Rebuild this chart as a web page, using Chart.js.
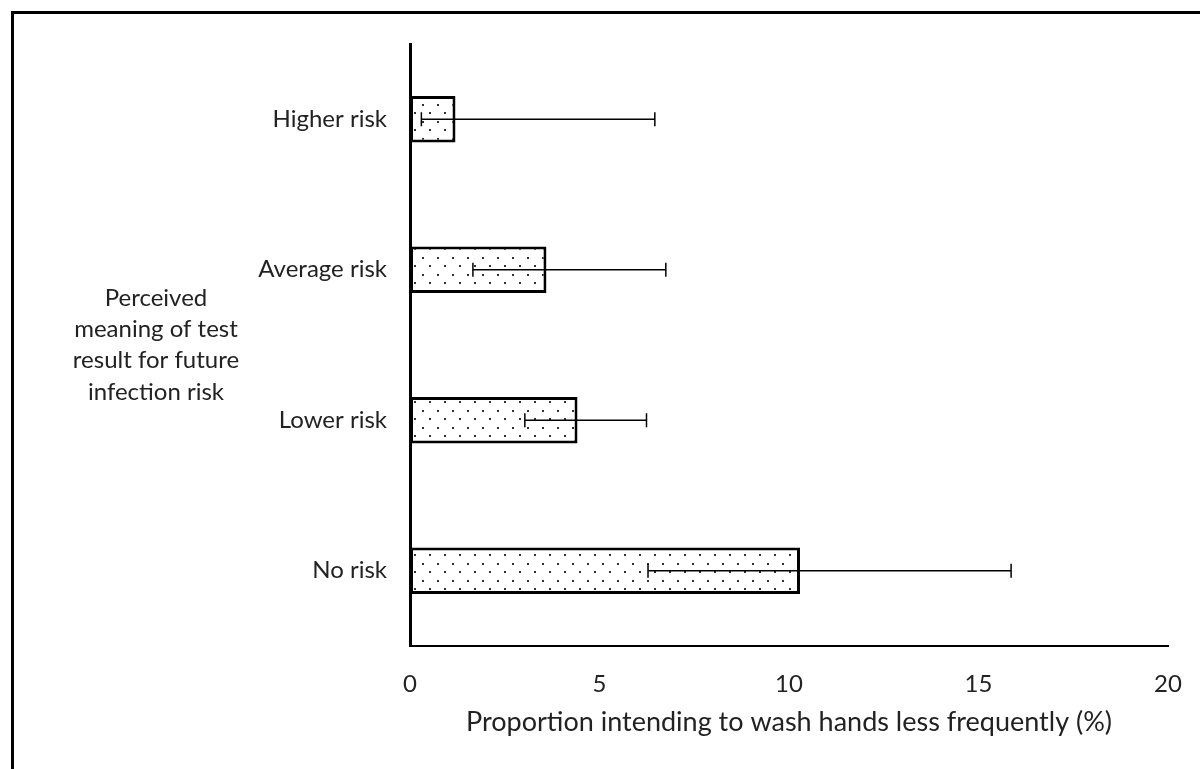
<!DOCTYPE html>
<html lang="en">
<head>
    <meta charset="UTF-8">
    <title>Proportion intending to wash hands less frequently</title>
    <script src="https://cdn.jsdelivr.net/npm/chart.js"></script>
    <style>
        html, body {
            margin: 0;
            padding: 0;
            background: #fff;
        }
        .frame {
            position: absolute;
            left: 11px;
            top: 11px;
            width: 1189px;
            height: 758px;
            border-left: 3px solid #000;
            border-top: 3px solid #000;
            box-sizing: border-box;
        }
        .chart-container {
            position: absolute;
            left: 0;
            top: 0;
            width: 1200px;
            height: 769px;
        }
    </style>
</head>
<body>
    <div class="frame"></div>
    <div class="chart-container">
        <canvas id="riskChart"></canvas>
    </div>

    <script>
        // data
        const categories = ['Higher risk', 'Average risk', 'Lower risk', 'No risk'];
        const proportions = [1.2, 3.6, 4.42, 10.29];
        const ciLower = [0.3, 1.66, 3.03, 6.28];
        const ciUpper = [6.46, 6.75, 6.24, 15.86];
        const xTicks = [0, 5, 10, 15, 20];
        const yTitleLines = ['Perceived', 'meaning of test', 'result for future', 'infection risk'];
        const xTitle = 'Proportion intending to wash hands less frequently (%)';

        const FONT = 'Lato, "Open Sans", sans-serif';

        function dotPattern() {
            const c = document.createElement('canvas');
            c.width = 15;
            c.height = 17;
            const g = c.getContext('2d');
            g.fillStyle = '#fff';
            g.fillRect(0, 0, 15, 17);
            g.fillStyle = '#333';
            g.fillRect(2, 2, 2, 2);
            g.fillRect(9, 10, 2, 2);
            return g.createPattern(c, 'repeat');
        }

        const errorBars = {
            id: 'errorBars',
            afterDatasetsDraw(chart) {
                const ctx = chart.ctx;
                const x = chart.scales.x;
                const meta = chart.getDatasetMeta(0);
                ctx.save();
                ctx.strokeStyle = '#000';
                ctx.lineWidth = 1.5;
                meta.data.forEach((bar, i) => {
                    const y = bar.y;
                    const x1 = x.getPixelForValue(ciLower[i]);
                    const x2 = x.getPixelForValue(ciUpper[i]);
                    ctx.beginPath();
                    ctx.moveTo(x1, y);
                    ctx.lineTo(x2, y);
                    ctx.moveTo(x1, y - 7);
                    ctx.lineTo(x1, y + 7);
                    ctx.moveTo(x2, y - 7);
                    ctx.lineTo(x2, y + 7);
                    ctx.stroke();
                });
                ctx.restore();
            }
        };

        const sideTitle = {
            id: 'sideTitle',
            afterDraw(chart) {
                const ctx = chart.ctx;
                const mid = (chart.chartArea.top + chart.chartArea.bottom) / 2;
                ctx.save();
                ctx.fillStyle = '#222';
                ctx.font = '24px ' + FONT;
                ctx.textAlign = 'center';
                ctx.textBaseline = 'middle';
                const lh = 31.3;
                const start = mid - lh * (yTitleLines.length - 1) / 2;
                yTitleLines.forEach((line, i) => {
                    ctx.fillText(line, 156, start + i * lh);
                });
                ctx.restore();
            }
        };

        const ctx = document.getElementById('riskChart').getContext('2d');
        new Chart(ctx, {
            type: 'bar',
            data: {
                labels: categories,
                datasets: [{
                    data: proportions,
                    backgroundColor: dotPattern(),
                    borderColor: '#000',
                    borderWidth: 3,
                    borderSkipped: false,
                    barPercentage: 0.31,
                    categoryPercentage: 1
                }]
            },
            options: {
                indexAxis: 'y',
                responsive: true,
                maintainAspectRatio: false,
                animation: false,
                layout: {
                    padding: { top: 44, right: 32, left: 0, bottom: 31 }
                },
                scales: {
                    x: {
                        min: 0,
                        max: 20,
                        afterBuildTicks: (scale) => {
                            scale.ticks = xTicks.map(v => ({ value: v }));
                        },
                        afterFit: (scale) => {
                            scale.height = 92;
                            scale.paddingLeft = 0;
                            scale.paddingRight = 0;
                        },
                        grid: { display: false, drawTicks: false },
                        border: { color: '#000', width: 2 },
                        ticks: {
                            color: '#222',
                            padding: 24,
                            font: { family: FONT, size: 24 }
                        },
                        title: {
                            display: true,
                            text: xTitle,
                            color: '#222',
                            font: { family: FONT, size: 27 },
                            padding: 0
                        }
                    },
                    y: {
                        afterFit: (scale) => { scale.width = 410; },
                        grid: { display: false, drawTicks: false },
                        border: { color: '#000', width: 3 },
                        ticks: {
                            color: '#222',
                            padding: 23,
                            font: { family: FONT, size: 24 }
                        }
                    }
                },
                plugins: {
                    legend: { display: false },
                    tooltip: { enabled: false }
                }
            },
            plugins: [errorBars, sideTitle]
        });
    </script>
</body>
</html>
